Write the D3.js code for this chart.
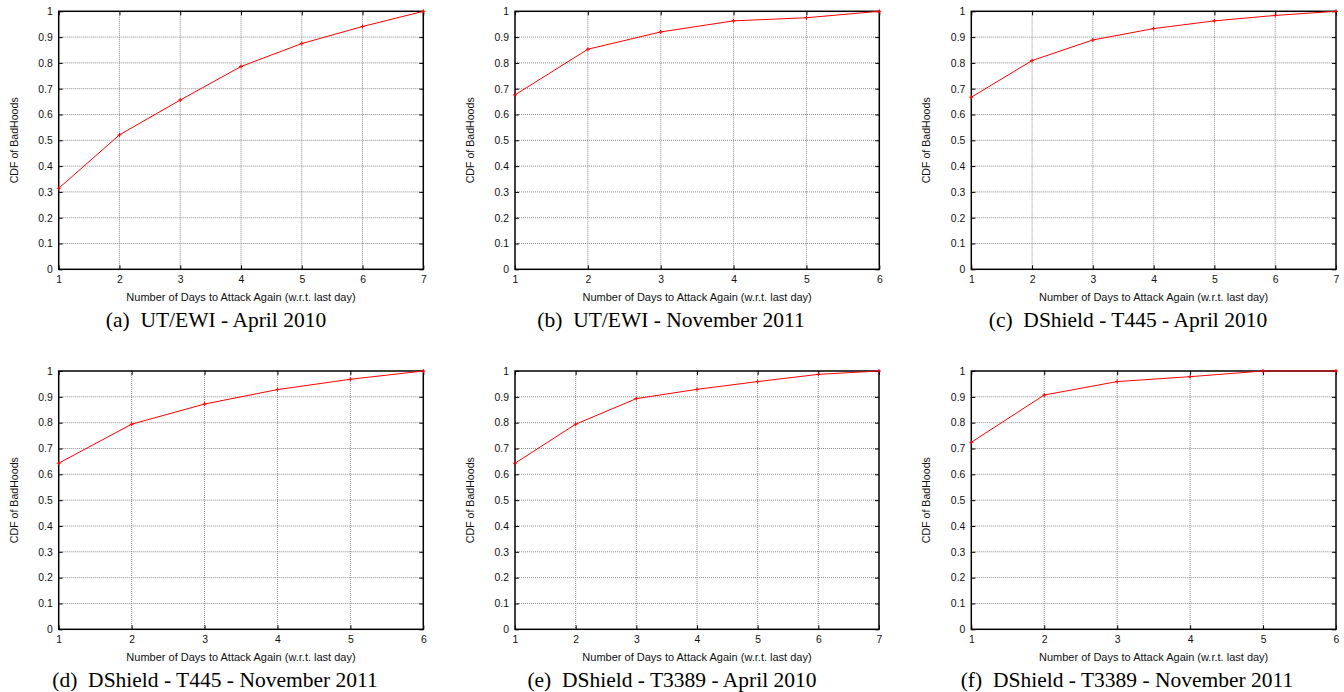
<!DOCTYPE html>
<html>
<head>
<meta charset="utf-8">
<script src="https://cdn.jsdelivr.net/npm/d3@7"></script>
<style>
  body { margin: 0; background: #fff; }
  svg { display: block; }
  .tick text { font-family: "Liberation Sans", Arial, sans-serif; }
</style>
</head>
<body>
<div id="chart"></div>
<script>
// 값 (그림에서 읽은 CDF)
const daysA = [1, 2, 3, 4, 5, 6, 7];
const cdfA = [0.314, 0.521, 0.656, 0.786, 0.875, 0.941, 1.0];
const daysB = [1, 2, 3, 4, 5, 6];
const cdfB = [0.676, 0.853, 0.920, 0.963, 0.975, 1.0];
const daysC = [1, 2, 3, 4, 5, 6, 7];
const cdfC = [0.667, 0.809, 0.889, 0.933, 0.963, 0.984, 1.0];
const daysD = [1, 2, 3, 4, 5, 6];
const cdfD = [0.643, 0.794, 0.872, 0.928, 0.968, 1.0];
const daysE = [1, 2, 3, 4, 5, 6, 7];
const cdfE = [0.643, 0.794, 0.893, 0.929, 0.959, 0.987, 1.0];
const daysF = [1, 2, 3, 4, 5, 6];
const cdfF = [0.724, 0.907, 0.959, 0.978, 1.0, 1.0];

const yTicks = [0, 0.1, 0.2, 0.3, 0.4, 0.5, 0.6, 0.7, 0.8, 0.9, 1];
const captions = [
  "(a)  UT/EWI - April 2010",
  "(b)  UT/EWI - November 2011",
  "(c)  DShield - T445 - April 2010",
  "(d)  DShield - T445 - November 2011",
  "(e)  DShield - T3389 - April 2010",
  "(f)  DShield - T3389 - November 2011"
];
const xLabel = "Number of Days to Attack Again (w.r.t. last day)";
const yLabel = "CDF of BadHoods";

const W = 1344, H = 692;
const svg = d3.select("#chart").append("svg")
  .attr("width", W)
  .attr("height", H);

// 패널 위치 (그래프 영역의 left, right, top, bottom) 과 캡션 중심
const panels = [
  {days: daysA, cdf: cdfA, l: 58.7, r: 423.3, t: 11.3, b: 269.3, yl: 14, cx: 216},
  {days: daysB, cdf: cdfB, l: 515, r: 879.3, t: 11.3, b: 269.3, yl: 470, cx: 671},
  {days: daysC, cdf: cdfC, l: 971.3, r: 1336, t: 11.3, b: 269.3, yl: 926, cx: 1128},
  {days: daysD, cdf: cdfD, l: 58.7, r: 423.3, t: 371, b: 629.3, yl: 14, cx: 215},
  {days: daysE, cdf: cdfE, l: 515, r: 879, t: 371, b: 629.3, yl: 470, cx: 672},
  {days: daysF, cdf: cdfF, l: 971.3, r: 1336, t: 371, b: 629.3, yl: 926, cx: 1127}
];

const fs = 10.4; // 작은 글자 크기

const drawPanel = (p, i) => {
  const g = svg.append("g");
  const x = d3.scaleLinear()
    .domain(d3.extent(p.days))
    .range([p.l, p.r]);
  const y = d3.scaleLinear()
    .domain([0, 1])
    .range([p.b, p.t]);

  // 격자 (점선)
  g.append("g")
    .selectAll("line.gx")
    .data(p.days.slice(1, -1))
    .join("line")
    .attr("x1", d => x(d)).attr("x2", d => x(d))
    .attr("y1", p.t).attr("y2", p.b)
    .attr("stroke", "#8a8a8a")
    .attr("stroke-width", 1)
    .attr("stroke-dasharray", "1,1");
  g.append("g")
    .selectAll("line.gy")
    .data(yTicks.slice(1, -1))
    .join("line")
    .attr("x1", p.l).attr("x2", p.r)
    .attr("y1", d => y(d)).attr("y2", d => y(d))
    .attr("stroke", "#8a8a8a")
    .attr("stroke-width", 1)
    .attr("stroke-dasharray", "1,1");

  // 축
  const yAxis = d3.axisLeft(y)
    .tickValues(yTicks)
    .tickFormat(d => String(d))
    .tickSizeInner(-4)
    .tickSizeOuter(0)
    .tickPadding(6);
  const xAxis = d3.axisBottom(x)
    .tickValues(p.days)
    .tickFormat(d3.format("d"))
    .tickSizeInner(-4)
    .tickSizeOuter(0)
    .tickPadding(6);

  g.append("g")
    .attr("transform", `translate(${p.l},0)`)
    .call(yAxis)
    .call(a => a.select(".domain").remove())
    .call(a => a.selectAll("text").attr("font-size", fs).attr("fill", "#111"));
  g.append("g")
    .attr("transform", `translate(0,${p.b})`)
    .call(xAxis)
    .call(a => a.select(".domain").remove())
    .call(a => a.selectAll("text").attr("font-size", fs).attr("fill", "#111"));

  // 오른쪽 / 위쪽 눈금
  g.append("g")
    .attr("transform", `translate(${p.r},0)`)
    .call(d3.axisRight(y).tickValues(yTicks).tickSizeInner(-4).tickSizeOuter(0).tickFormat(""))
    .call(a => a.select(".domain").remove());
  g.append("g")
    .attr("transform", `translate(0,${p.t})`)
    .call(d3.axisTop(x).tickValues(p.days).tickSizeInner(-4).tickSizeOuter(0).tickFormat(""))
    .call(a => a.select(".domain").remove());

  // 테두리
  g.append("rect")
    .attr("x", p.l).attr("y", p.t)
    .attr("width", p.r - p.l).attr("height", p.b - p.t)
    .attr("fill", "none")
    .attr("stroke", "#000")
    .attr("stroke-width", 1.5);

  // 선
  const pts = p.days.map((d, k) => [d, p.cdf[k]]);
  g.append("path")
    .datum(pts)
    .attr("fill", "none")
    .attr("stroke", "#ff0000")
    .attr("stroke-width", 1)
    .attr("d", d3.line().x(d => x(d[0])).y(d => y(d[1])));

  // + 마커
  g.append("g")
    .selectAll("path")
    .data(pts)
    .join("path")
    .attr("transform", d => `translate(${x(d[0])},${y(d[1])})`)
    .attr("d", "M-2,0H2M0,-2V2")
    .attr("stroke", "#ff0000")
    .attr("stroke-width", 1);

  // 축 제목
  g.append("text")
    .attr("x", (p.l + p.r) / 2)
    .attr("y", p.b + 32)
    .attr("text-anchor", "middle")
    .attr("font-family", "Liberation Sans, Arial, sans-serif")
    .attr("font-size", 11)
    .attr("fill", "#111")
    .text(xLabel);
  g.append("text")
    .attr("transform", `translate(${p.yl},${(p.t + p.b) / 2}) rotate(-90)`)
    .attr("text-anchor", "middle")
    .attr("dy", "0.35em")
    .attr("font-family", "Liberation Sans, Arial, sans-serif")
    .attr("font-size", 10.6)
    .attr("fill", "#111")
    .text(yLabel);

  // 캡션
  g.append("text")
    .attr("x", p.cx)
    .attr("y", p.b + 58)
    .attr("text-anchor", "middle")
    .attr("font-family", "Liberation Serif, Times New Roman, serif")
    .attr("font-size", 21.5)
    .attr("fill", "#000")
    .attr("xml:space", "preserve")
    .style("white-space", "pre")
    .text(captions[i]);
};

panels.forEach(drawPanel);
</script>
</body>
</html>
